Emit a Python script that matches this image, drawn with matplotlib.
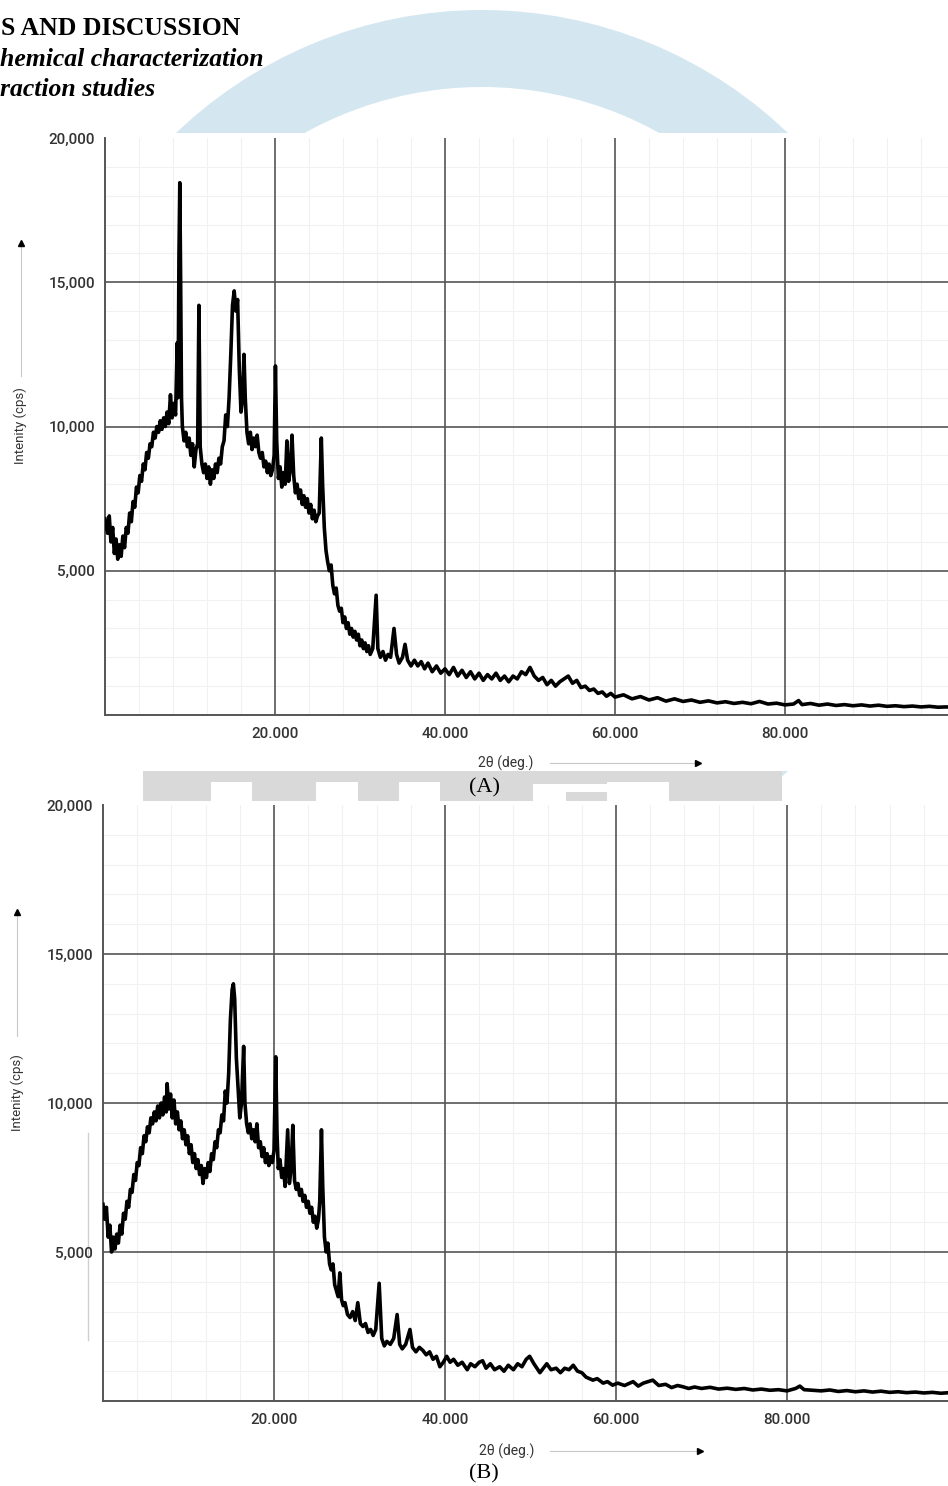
import numpy as np
import matplotlib
matplotlib.use('Agg')
import matplotlib.pyplot as plt
from matplotlib.patches import Wedge, Rectangle

plt.rcParams['font.family'] = ['Roboto', 'DejaVu Sans']

W, H = 948, 1486

# ---- data ----
theta_a = [0.0, 0.3, 0.5, 0.7, 0.9, 1.1, 1.3, 1.5, 1.7, 1.9, 2.1, 2.3, 2.5, 2.7, 2.9,
           3.1, 3.3, 3.5, 3.7, 3.9, 4.1, 4.3, 4.5, 4.7, 4.9, 5.1, 5.3, 5.5, 5.7, 5.9,
           6.1, 6.3, 6.5, 6.7, 6.9, 7.1, 7.3, 7.5, 7.7, 7.9, 8.1, 8.3, 8.5, 8.6, 8.7,
           8.8, 8.9, 9.0, 9.1, 9.3, 9.5, 9.7, 9.9, 10.1, 10.3, 10.5, 10.7, 10.9, 11.05,
           11.2, 11.4, 11.6, 11.8, 12.0, 12.2, 12.4, 12.6, 12.8, 13.0, 13.2, 13.4, 13.6,
           13.8, 14.0, 14.2, 14.4, 14.6, 14.8, 15.0, 15.2, 15.4, 15.6, 15.8, 16.0, 16.2,
           16.35, 16.5, 16.7, 16.9, 17.1, 17.3, 17.5, 17.7, 17.9, 18.1, 18.3, 18.5, 18.7,
           18.9, 19.1, 19.3, 19.5, 19.7, 19.9, 20.05, 20.2, 20.4, 20.6, 20.8, 21.0, 21.2,
           21.4, 21.6, 21.8, 22.0, 22.2, 22.4, 22.6, 22.8, 23.0, 23.2, 23.4, 23.6, 23.8,
           24.0, 24.2, 24.4, 24.6, 24.8, 25.0, 25.2, 25.45, 25.6, 25.8, 26.0, 26.2, 26.4,
           26.6, 26.8, 27.0, 27.2, 27.4, 27.6, 27.8, 28.0, 28.2, 28.4, 28.6, 28.8, 29.0,
           29.2, 29.4, 29.6, 29.8, 30.0, 30.2, 30.4, 30.6, 30.8, 31.0, 31.2, 31.5, 31.9,
           32.1, 32.4, 32.7, 33.0, 33.3, 33.6, 34.0, 34.3, 34.6, 35.0, 35.3, 35.6, 36.0,
           36.4, 36.8, 37.2, 37.6, 38.0, 38.5, 39.0, 39.5, 40.0, 40.5, 41.0, 41.5, 42.0,
           42.5, 43.0, 43.5, 44.0, 44.5, 45.0, 45.5, 46.0, 46.5, 47.0, 47.5, 48.0, 48.5,
           49.0, 49.5, 50.0, 50.5, 51.0, 51.5, 52.0, 52.5, 53.0, 53.5, 54.0, 54.5, 55.0,
           55.5, 56.0, 56.5, 57.0, 57.5, 58.0, 58.5, 59.0, 59.5, 60.0, 61, 62, 63, 64, 65,
           66, 67, 68, 69, 70, 71, 72, 73, 74, 75, 76, 77, 78, 79, 80, 81, 81.6, 82, 83,
           84, 85, 86, 87, 88, 89, 90, 91, 92, 93, 94, 95, 96, 97, 98, 99, 100]
counts_a = [6800, 6300, 6900, 6000, 6500, 5600, 6100, 5400, 5900, 5500, 6200, 5800, 6500, 6300, 7000,
            6700, 7400, 7200, 7900, 7700, 8300, 8100, 8700, 8500, 9100, 8900, 9400, 9300, 9800, 9600,
            10000, 9800, 10200, 9900, 10300, 10000, 10500, 10100, 11100, 10300, 10800, 10400, 12900, 11000, 15900,
            18450, 15000, 11000, 10000, 9500, 9800, 9300, 9600, 9000, 9400, 8600, 9200, 9400, 14200,
            9300, 8700, 8400, 8700, 8200, 8600, 8000, 8500, 8200, 8700, 8400, 8900, 8700,
            9300, 9500, 10400, 10000, 11000, 12500, 14200, 14700, 14000, 14400, 12000, 10500, 11000,
            12500, 11000, 9800, 9400, 9800, 9200, 9600, 9300, 9700, 9100, 8900, 9100, 8600,
            8800, 8400, 8700, 8300, 8500, 9000, 12100, 9500, 8200, 8600, 7900, 8400, 8000,
            9500, 8100, 8500, 9700, 8300, 7700, 8000, 7500, 7800, 7300, 7600, 7200, 7500,
            7000, 7300, 6800, 7100, 6700, 6900, 7000, 9600, 8000, 6500, 5700, 5300, 5000,
            5200, 4500, 4200, 4400, 3800, 3600, 3700, 3200, 3400, 3000, 3200, 2800, 3000,
            2700, 2900, 2600, 2800, 2400, 2600, 2300, 2500, 2200, 2400, 2100, 2300, 4150,
            2300, 2000, 2200, 1900, 2100, 2000, 3000, 2100, 1800, 2000, 2450, 1900, 1700,
            1900, 1700, 1850, 1600, 1800, 1500, 1700, 1450, 1600, 1400, 1650, 1350, 1550,
            1300, 1500, 1250, 1450, 1200, 1400, 1250, 1450, 1200, 1350, 1150, 1350, 1250,
            1500, 1400, 1650, 1350, 1200, 1300, 1050, 1200, 1000, 1150, 1250, 1350, 1100,
            1200, 950, 1000, 850, 900, 750, 800, 650, 750, 620, 700, 560, 640, 520, 600,
            480, 560, 470, 520, 440, 490, 420, 460, 400, 440, 390, 470, 380, 410, 350, 380, 500, 360, 400,
            340, 380, 330, 360, 320, 350, 310, 340, 300, 320, 290, 310, 280, 300, 270, 280, 260]

theta_b = [0.0, 0.2, 0.4, 0.6, 0.8, 1.0, 1.2, 1.4, 1.6, 1.8, 2.0, 2.2, 2.4, 2.6, 2.8,
           3.0, 3.2, 3.4, 3.6, 3.8, 4.0, 4.2, 4.4, 4.6, 4.8, 5.0, 5.2, 5.4, 5.6, 5.8,
           6.0, 6.2, 6.4, 6.6, 6.8, 7.0, 7.2, 7.4, 7.5, 7.7, 7.9, 8.1, 8.3, 8.5, 8.7,
           8.9, 9.1, 9.3, 9.5, 9.7, 9.9, 10.1, 10.3, 10.5, 10.7, 10.9, 11.1, 11.3, 11.5,
           11.7, 11.9, 12.1, 12.3, 12.5, 12.7, 12.9, 13.1, 13.3, 13.5, 13.7, 13.9, 14.1,
           14.3, 14.5, 14.7, 14.9, 15.1, 15.25, 15.4, 15.6, 15.8, 16.0, 16.2, 16.45, 16.6,
           16.8, 17.0, 17.2, 17.4, 17.6, 17.8, 18.0, 18.2, 18.4, 18.6, 18.8, 19.0, 19.2,
           19.4, 19.6, 19.8, 20.0, 20.2, 20.35, 20.5, 20.7, 20.9, 21.1, 21.3, 21.6, 21.8,
           22.0, 22.2, 22.4, 22.6, 22.8, 23.0, 23.2, 23.4, 23.6, 23.8, 24.0, 24.2, 24.4,
           24.6, 24.8, 25.0, 25.2, 25.35, 25.55, 25.7, 25.9, 26.1, 26.3, 26.5, 26.7, 26.9,
           27.1, 27.3, 27.5, 27.7, 27.9, 28.1, 28.3, 28.6, 28.9, 29.2, 29.5, 29.8, 30.1,
           30.4, 30.7, 31.0, 31.3, 31.6, 31.9, 32.3, 32.6, 32.9, 33.2, 33.6, 34.0, 34.4,
           34.7, 35.0, 35.4, 35.9, 36.2, 36.6, 37.0, 37.4, 37.8, 38.2, 38.6, 39.0, 39.4,
           39.8, 40.2, 40.6, 41.0, 41.5, 42.0, 42.6, 43.0, 43.5, 44.0, 44.4, 44.8, 45.3,
           45.8, 46.4, 46.9, 47.4, 48.0, 48.5, 49.0, 49.5, 49.9, 50.4, 51.1, 51.5, 51.9,
           52.4, 53.0, 53.5, 54.0, 54.5, 55.0, 55.5, 56.0, 56.5, 57.3, 57.8, 58.5, 59.0,
           59.6, 60.2, 61.0, 62.0, 62.6, 63.2, 64.3, 65.0, 65.8, 66.5, 67.2, 67.8, 68.5,
           69.2, 70.0, 71, 72, 73, 74, 75, 76, 77, 78, 79, 80, 81, 81.5, 82, 83, 84, 85,
           86, 87, 88, 89, 90, 91, 92, 93, 94, 95, 96, 97, 98, 99, 100]
counts_b = [6600, 6100, 6500, 5500, 5900, 5000, 5500, 5100, 5600, 5300, 5900, 5600, 6300, 6100, 6700,
            6500, 7100, 7000, 7600, 7400, 8000, 7900, 8500, 8300, 8900, 8700, 9200, 9000, 9500, 9300,
            9700, 9400, 9900, 9500, 10000, 9600, 10200, 9700, 10650, 9800, 10300, 9500, 10100, 9300, 9700,
            9100, 9400, 8800, 9100, 8600, 8900, 8300, 8600, 8000, 8300, 7800, 8100, 7600, 7900,
            7300, 7800, 7500, 8000, 7700, 8300, 8100, 8700, 8500, 9100, 9000, 9600, 9400,
            10400, 10000, 11000, 12800, 13800, 14000, 13500, 11500, 10500, 9500, 10000, 11900, 10000,
            9300, 9000, 9300, 8800, 9100, 8700, 9300, 8500, 8700, 8200, 8500, 8000, 8300,
            7900, 8200, 8000, 8400, 11550, 9000, 7800, 8100, 7500, 7800, 7200, 9100, 7300,
            7800, 9250, 7400, 7100, 7300, 6900, 7100, 6700, 6900, 6500, 6700, 6300, 6500,
            6000, 6200, 5800, 6100, 6700, 9100, 7200, 5500, 5000, 5300, 4600, 4400, 4600,
            3900, 3700, 3500, 4300, 3400, 3200, 3300, 2900, 2800, 3000, 2700, 3300, 2600,
            2500, 2600, 2300, 2400, 2200, 2400, 3950, 2100, 1850, 2000, 1900, 2100, 2900,
            1900, 1750, 1900, 2400, 1800, 1650, 1800, 1700, 1550, 1650, 1400, 1500, 1150,
            1300, 1500, 1300, 1400, 1200, 1300, 1050, 1250, 1150, 1300, 1350, 1100, 1250,
            1050, 1150, 1000, 1200, 1050, 1250, 1150, 1400, 1500, 1250, 950, 1100, 1250,
            1050, 1100, 950, 1100, 1050, 1200, 1000, 950, 800, 700, 750, 600, 650,
            530, 600, 520, 650, 500, 600, 700, 520, 560, 450, 520, 480, 420,
            470, 420, 460, 400, 430, 390, 420, 370, 400, 360, 380, 340, 420, 500, 380, 360, 340, 370,
            320, 350, 310, 340, 300, 330, 290, 310, 280, 300, 270, 290, 260, 280, 250]

x_ticks = [20, 40, 60, 80]
x_tick_labels = ['20.000', '40.000', '60.000', '80.000']
y_ticks = [5000, 10000, 15000, 20000]
y_tick_labels = ['5,000', '10,000', '15,000', '20,000']
y_label = 'Intenity (cps)'
x_label = '2θ (deg.)'
header = ['S AND DISCUSSION', 'hemical characterization', 'raction studies']


def fx(px):
    return px / W


def fy(py):
    return 1 - py / H


fig = plt.figure(figsize=(W / 100, H / 100), dpi=100)

# page background: watermark ring, grey logo band, white figure areas
bg = fig.add_axes([0, 0, 1, 1], zorder=-1)
bg.set_xlim(0, W)
bg.set_ylim(H, 0)
bg.axis('off')
bg.add_patch(Wedge((482, 452), 442, 0, 360, width=77, color='#d4e7f1', lw=0))
bg.add_patch(Rectangle((143, 771), 639, 40, color='#d9d9d9', lw=0))
for x0, x1, y0 in [(211, 252, 782), (316, 358, 782), (399, 440, 782),
                   (533, 566, 784), (607, 669, 782)]:
    bg.add_patch(Rectangle((x0, y0), x1 - x0, 30, color='white', lw=0))
bg.add_patch(Rectangle((566, 784), 41, 8, color='white', lw=0))
bg.add_patch(Rectangle((0, 133), W, 638, color='white', lw=0))
bg.add_patch(Rectangle((0, 801), W, H - 801, color='white', lw=0))

# arrows next to axis titles
bg.plot([21, 21], [376, 246], color='#c8c8c8', lw=0.8)
bg.plot([21], [243], marker='^', color='black', ms=4)
bg.plot([17, 17], [1036, 915], color='#c8c8c8', lw=0.8)
bg.plot([17], [912], marker='^', color='black', ms=4)
bg.plot([88, 88], [1133, 1340], color='#d0d0d0', lw=1.0)
bg.plot([550, 695], [763, 763], color='#c8c8c8', lw=0.8)
bg.plot([698], [763], marker='>', color='black', ms=4)
bg.plot([550, 697], [1451, 1451], color='#c8c8c8', lw=0.8)
bg.plot([700], [1451], marker='>', color='black', ms=4)


def panel(rect, theta, counts):
    ax = fig.add_axes(rect)
    ax.set_facecolor('white')
    ax.plot(theta, counts, color='black', lw=2.6, zorder=3)
    ax.set_xlim(0, 100)
    ax.set_ylim(0, 20000)
    ax.set_xticks(np.arange(0, 101, 4), minor=True)
    ax.set_yticks(np.arange(0, 20001, 1000), minor=True)
    ax.set_xticks(x_ticks, x_tick_labels)
    ax.set_yticks(y_ticks, y_tick_labels)
    ax.grid(which='minor', color='#f1f1f1', lw=0.8)
    for x in x_ticks:
        ax.axvline(x, color='#555555', lw=1.2, zorder=2)
    for y in y_ticks[:-1]:
        ax.axhline(y, color='#555555', lw=1.2, zorder=2)
    ax.tick_params(which='both', length=0)
    ax.tick_params(axis='y', pad=7, labelsize=11, labelcolor='#333333')
    ax.tick_params(axis='x', pad=9, labelsize=11, labelcolor='#333333')
    for t in ax.get_xticklabels() + ax.get_yticklabels():
        t.set_fontweight('medium')
    for s in ['top', 'right']:
        ax.spines[s].set_visible(False)
    for s in ['left', 'bottom']:
        ax.spines[s].set_color('#555555')
        ax.spines[s].set_linewidth(1.4)
    return ax


panel([fx(105), fy(715), 850 / W, 577 / H], theta_a, counts_a)
panel([fx(103), fy(1401), 855 / W, 596 / H], theta_b, counts_b)

# axis titles
fig.text(fx(20), fy(426), y_label, rotation=90, ha='center', va='center', fontsize=9.5, color='#333333')
fig.text(fx(17), fy(1093), y_label, rotation=90, ha='center', va='center', fontsize=9.5, color='#333333')
fig.text(fx(506), fy(763), x_label, ha='center', va='center', fontsize=10, color='#333333')
fig.text(fx(507), fy(1451), x_label, ha='center', va='center', fontsize=10, color='#333333')

# panel captions
fig.text(fx(484), fy(788), '(A)', ha='center', va='center', fontsize=16,
         family='Liberation Serif', color='black')
fig.text(fx(484), fy(1474), '(B)', ha='center', va='center', fontsize=16,
         family='Liberation Serif', color='black')

# page header (cut off at the left)
fig.text(fx(1), fy(35), header[0], ha='left', va='baseline', fontsize=18.5,
         family='Liberation Serif', fontweight='bold')
fig.text(fx(0), fy(66), header[1], ha='left', va='baseline', fontsize=18.5,
         family='Liberation Serif', fontweight='bold', style='italic')
fig.text(fx(0), fy(96), header[2], ha='left', va='baseline', fontsize=18.5,
         family='Liberation Serif', fontweight='bold', style='italic')

fig.savefig('out.png', dpi=100)
